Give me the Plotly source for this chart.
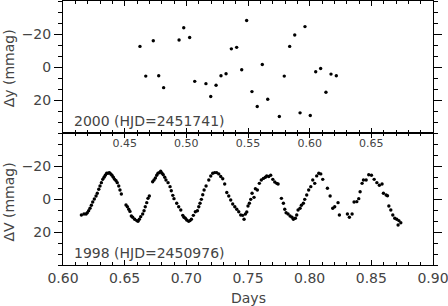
import plotly.graph_objects as go

# ---- 2000 data (top panel) ----
x2000 = [0.4624, 0.4671, 0.4732, 0.4776, 0.4816, 0.4941, 0.4979, 0.5027, 0.5068, 0.5159,
         0.5198, 0.5241, 0.5281, 0.5322, 0.5365, 0.5408, 0.5449, 0.5489, 0.5532, 0.5575,
         0.5616, 0.5660, 0.5754, 0.5794, 0.5838, 0.5879, 0.5922, 0.5962, 0.6005, 0.6049,
         0.6089, 0.6132, 0.6173, 0.6216]
y2000 = [-12.5, 5.5, -15.9, 5.3, 12.5, -16.4, -23.8, -17.9, 8.7, 10.1,
         17.9, 11.1, 5.3, 4.1, -11.0, -11.9, 1.7, -28.2, 14.9, 23.9,
         -1.5, 19.5, 30.0, 5.5, -12.5, -19.4, 27.8, -24.5, 29.4, 2.9,
         0.9, 15.3, 4.3, 5.3]

# ---- 1998 data (bottom panel) ----
x1998 = [0.6149, 0.6170, 0.6187, 0.6197, 0.6208, 0.6219, 0.6230, 0.6241, 0.6254, 0.6268,
         0.6278, 0.6290, 0.6300, 0.6311, 0.6322, 0.6333, 0.6343, 0.6354, 0.6365, 0.6376,
         0.6387, 0.6397, 0.6408, 0.6419, 0.6430, 0.6440, 0.6452, 0.6462, 0.6473,
         0.6511, 0.6522, 0.6533, 0.6543, 0.6554, 0.6565, 0.6581, 0.6598, 0.6608, 0.6619,
         0.6630, 0.6646, 0.6657, 0.6667, 0.6679, 0.6689, 0.6700,
         0.6727, 0.6738, 0.6749, 0.6760, 0.6770, 0.6781, 0.6792, 0.6803, 0.6813, 0.6825,
         0.6835, 0.6852, 0.6868, 0.6878, 0.6890, 0.6900, 0.6922, 0.6938, 0.6955, 0.6971,
         0.6981, 0.6992, 0.7003, 0.7019, 0.7030, 0.7041, 0.7057, 0.7073, 0.7090, 0.7101,
         0.7111, 0.7122, 0.7133, 0.7144, 0.7160, 0.7182, 0.7198, 0.7214, 0.7230, 0.7246,
         0.7263, 0.7279, 0.7295,
         0.7311, 0.7328, 0.7344, 0.7360, 0.7376, 0.7393, 0.7409, 0.7425, 0.7441, 0.7457,
         0.7468, 0.7479, 0.7490, 0.7500, 0.7511, 0.7522, 0.7533, 0.7549, 0.7560, 0.7576,
         0.7592, 0.7608, 0.7625, 0.7641, 0.7652, 0.7668, 0.7684, 0.7701, 0.7717, 0.7733,
         0.7744,
         0.7771, 0.7787, 0.7798, 0.7809, 0.7825, 0.7841, 0.7857, 0.7868, 0.7884, 0.7895,
         0.7906, 0.7922, 0.7933, 0.7949, 0.7960, 0.7976, 0.7992, 0.8009, 0.8025, 0.8041,
         0.8057, 0.8074, 0.8090, 0.8106, 0.8144, 0.8166, 0.8187, 0.8203, 0.8230, 0.8241,
         0.8306, 0.8322, 0.8344, 0.8360, 0.8382, 0.8398, 0.8409, 0.8425, 0.8436, 0.8458,
         0.8479, 0.8501, 0.8523, 0.8545, 0.8565, 0.8587, 0.8598, 0.8620, 0.8631, 0.8642,
         0.8658, 0.8674, 0.8690, 0.8706, 0.8717, 0.8723, 0.8739]
y1998 = [9.7, 9.1, 9.1, 8.3, 7.1, 5.6, 3.8, 1.8, 0.0, -1.8,
         -3.5, -5.9, -7.9, -9.9, -11.9, -13.2, -14.4, -15.6, -15.6, -16.0,
         -15.2, -14.4, -13.2, -11.9, -11.1, -9.9, -7.9, -5.5, -3.0,
         3.6, 4.7, 6.2, 7.5, 10.3, 11.1, 12.3, 13.1, 13.5, 12.3,
         10.7, 9.1, 7.1, 4.7, 2.2, -0.4, -1.8,
         -10.5, -11.5, -12.7, -14.4, -15.6, -16.0, -16.8, -15.6, -14.7, -13.2,
         -11.5, -9.9, -7.5, -5.0, -2.2, -0.2, 2.6, 4.7, 6.7, 9.9,
         11.1, 11.7, 12.7, 13.5, 13.1, 12.3, 9.9, 7.7, 7.1, 4.7,
         2.6, 0.2, -2.6, -5.5, -7.9, -11.5, -13.9, -15.6, -16.0, -16.0,
         -15.2, -13.6, -12.3,
         -9.1, -3.9, -1.8, 0.6, 3.0, 4.7, 6.2, 7.7, 9.7, 9.9,
         12.3, 9.1, 7.9, 4.2, 2.6, 0.2, -3.5, -1.0, -6.2, -5.5,
         -9.5, -11.5, -12.5, -13.2, -14.0, -13.6, -14.4, -11.9, -10.3, -9.5,
         -9.1,
         -0.4, 2.6, 6.2, 8.3, 9.1, 10.3, 11.1, 12.3, 11.7, 9.7,
         6.7, 5.6, 3.8, 2.6, 0.2, -2.4, -5.5, -7.5, -11.5, -9.5,
         -14.0, -15.6, -15.2, -11.9, -6.5, -1.8, 5.6, 4.7, 2.2, 9.7,
         9.1, 11.1, 9.1, 1.8, 1.6, -0.2, -4.4, -9.5, -11.5, -11.5,
         -14.7, -14.4, -11.9, -9.9, -8.3, -9.1, -3.5, -2.4, -2.0, 4.2,
         6.7, 9.7, 11.7, 12.3, 15.8, 13.1, 14.4]

top_xticks = [0.45, 0.50, 0.55, 0.60, 0.65]
bot_xticks = [0.60, 0.65, 0.70, 0.75, 0.80, 0.85, 0.90]
y_ticks = [-20, 0, 20]

FONT = "DejaVu Sans"
TXT = "#444444"

fig = go.Figure()
fig.add_trace(go.Scatter(x=x2000, y=y2000, mode="markers", xaxis="x", yaxis="y",
                         marker=dict(size=3.4, color="black"), showlegend=False))
fig.add_trace(go.Scatter(x=x1998, y=y1998, mode="markers", xaxis="x2", yaxis="y2",
                         marker=dict(size=3.4, color="black"), showlegend=False))

xcommon = dict(showgrid=False, zeroline=False, showline=True, linecolor="black", linewidth=1,
               mirror="ticks", ticks="inside", ticklen=5, tickcolor="black", tickwidth=1,
               automargin=False, ticklabeloverflow="allow")
ycommon = dict(showgrid=False, zeroline=False, showline=True, linecolor="black", linewidth=1,
               mirror="ticks", ticks="outside", ticklen=8, tickcolor="black", tickwidth=1,
               automargin=False,
               range=[40, -40], tickvals=y_ticks, ticktext=[str(v).replace("-", "\u2212") for v in y_ticks],
               minor=dict(tick0=0, dtick=20 / 3, ticks="outside", ticklen=4, tickcolor="black"),
               tickfont=dict(family=FONT, size=14, color=TXT))

fig.update_layout(
    width=448, height=306,
    margin=dict(l=63, r=15, t=1, b=41, autoexpand=False),
    paper_bgcolor="white", plot_bgcolor="white",
    xaxis=dict(**xcommon, anchor="y", domain=[0, 1], range=[0.40, 0.70],
               tickvals=top_xticks, ticktext=["%.2f" % v for v in top_xticks],
               minor=dict(dtick=0.01, tick0=0.40, ticks="inside", ticklen=3, tickcolor="black"),
               tickfont=dict(family=FONT, size=11, color=TXT)),
    yaxis=dict(**ycommon, anchor="x", domain=[0.5, 1]),
    xaxis2=dict(**xcommon, anchor="y2", domain=[0, 1], range=[0.60, 0.90],
                tickvals=bot_xticks, ticktext=["%.2f" % v for v in bot_xticks],
                minor=dict(dtick=0.01, tick0=0.60, ticks="inside", ticklen=3, tickcolor="black"),
                tickfont=dict(family=FONT, size=14, color=TXT)),
    yaxis2=dict(**ycommon, anchor="x2", domain=[0, 0.5]),
    annotations=[
        dict(text="2000 (HJD=2451741)", x=0.4075, y=32.6, xref="x", yref="y",
             xanchor="left", yanchor="middle", showarrow=False,
             font=dict(family=FONT, size=14, color=TXT)),
        dict(text="1998 (HJD=2450976)", x=0.6075, y=32.7, xref="x2", yref="y2",
             xanchor="left", yanchor="middle", showarrow=False,
             font=dict(family=FONT, size=14, color=TXT)),
        dict(text="\u0394y (mmag)", x=-0.146, y=0.745, xref="paper", yref="paper",
             textangle=-90, xanchor="center", yanchor="middle", showarrow=False,
             font=dict(family=FONT, size=14, color=TXT)),
        dict(text="\u0394V (mmag)", x=-0.146, y=0.24, xref="paper", yref="paper",
             textangle=-90, xanchor="center", yanchor="middle", showarrow=False,
             font=dict(family=FONT, size=14, color=TXT)),
        dict(text="Days", x=0.5, y=-0.125, xref="paper", yref="paper",
             xanchor="center", yanchor="middle", showarrow=False,
             font=dict(family=FONT, size=14, color=TXT)),
    ],
)

fig.write_html("out.html", config={"displayModeBar": False},
               post_script="document.body.style.margin='0px';")
